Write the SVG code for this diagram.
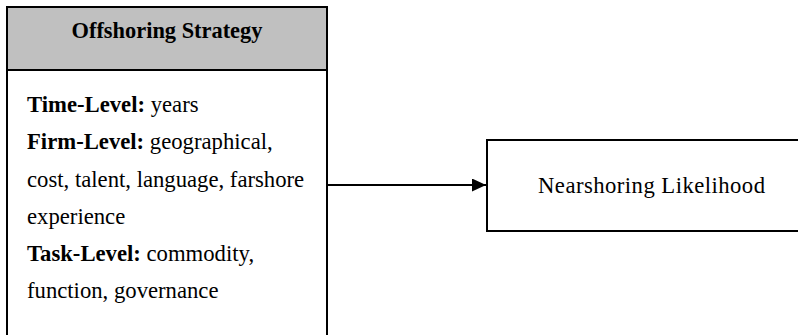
<svg xmlns="http://www.w3.org/2000/svg" width="798" height="335" viewBox="0 0 798 335">
  <style>
    .box { fill: #ffffff; stroke: #000000; stroke-width: 2; }
    .head { fill: #c0c0c0; stroke: #000000; stroke-width: 2; }
    .txt { font-family: "Liberation Serif", "Times New Roman", serif; font-size: 22.7px; fill: #000000; }
    .title { font-size: 22.4px; font-weight: bold; }
    .b { font-weight: bold; }
    .edge { stroke: #000000; stroke-width: 2; fill: none; }
  </style>
  <defs>
    <marker id="arrow" viewBox="0 0 14 13" refX="14" refY="6.5" markerWidth="14" markerHeight="13" markerUnits="userSpaceOnUse" orient="auto">
      <path d="M0,0 L14,6.5 L0,13 Z" fill="#000000"/>
    </marker>
  </defs>
  <rect width="798" height="335" fill="#ffffff"/>

  <g id="offshoring-strategy">
    <rect class="box" x="7" y="7" width="320" height="340"/>
    <rect class="head" x="7" y="7" width="320" height="63"/>
    <text class="txt title" x="167" y="38" text-anchor="middle">Offshoring Strategy</text>
    <text class="txt" x="27" y="112"><tspan class="b">Time-Level:</tspan> years</text>
    <text class="txt" x="27" y="149"><tspan class="b">Firm-Level:</tspan> geographical,</text>
    <text class="txt" x="27" y="187">cost, talent, language, farshore</text>
    <text class="txt" x="27" y="224">experience</text>
    <text class="txt" x="27" y="261"><tspan class="b">Task-Level:</tspan> commodity,</text>
    <text class="txt" x="27" y="298">function, governance</text>
  </g>

  <g id="nearshoring-likelihood">
    <rect class="box" x="487" y="140" width="330" height="91"/>
    <text class="txt" x="651.5" y="193" text-anchor="middle" textLength="227" lengthAdjust="spacing">Nearshoring Likelihood</text>
  </g>

  <g id="connectors">
    <line class="edge" x1="327" y1="185" x2="486" y2="185" marker-end="url(#arrow)"/>
  </g>
</svg>
